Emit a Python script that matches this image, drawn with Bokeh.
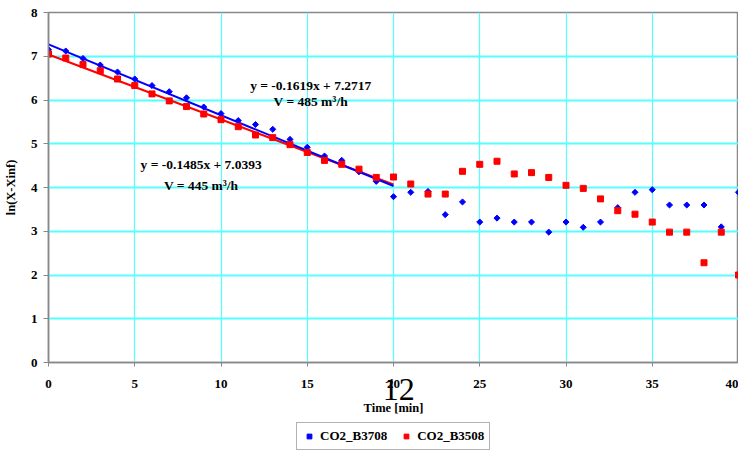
import math
from bokeh.plotting import figure
from bokeh.layouts import column
from bokeh.models import Range1d, FixedTicker, Legend, LegendItem, Label, LinearAxis
from bokeh.embed import file_html
from bokeh.resources import INLINE

# ---- data ----
time_min = list(range(0, 41))
co2_b3708 = [7.15, 7.12, 6.95, 6.80, 6.64, 6.48, 6.33, 6.19, 6.05, 5.84,
             5.69, 5.53, 5.44, 5.33, 5.10, 4.92, 4.72, 4.62, 4.36, 4.14,
             3.79, 3.89, 3.91, 3.38, 3.67, 3.21, 3.30, 3.21, 3.21, 2.98,
             3.21, 3.09, 3.21, 3.54, 3.89, 3.95, 3.60, 3.60, 3.60, 3.10,
             3.89]
co2_b3508 = [7.05, 6.96, 6.81, 6.67, 6.48, 6.33, 6.14, 5.98, 5.85, 5.68,
             5.55, 5.39, 5.20, 5.14, 4.98, 4.80, 4.62, 4.53, 4.42, 4.23,
             4.24, 4.08, 3.85, 3.85, 4.37, 4.53, 4.60, 4.31, 4.34, 4.23,
             4.05, 3.98, 3.74, 3.47, 3.39, 3.21, 2.98, 2.98, 2.28, 2.98,
             2.00]
fit_range = [0, 20]
fit_slope_b3708, fit_icpt_b3708 = -0.1619, 7.2717
fit_slope_b3508, fit_icpt_b3508 = -0.1485, 7.0393
x_ticks = [0, 5, 10, 15, 20, 25, 30, 35, 40]
y_ticks = [0, 1, 2, 3, 4, 5, 6, 7, 8]
eq_b3708 = ["y = -0.1619x + 7.2717", "V = 485 m\u00b3/h"]
eq_b3508 = ["y = -0.1485x + 7.0393", "V = 445 m\u00b3/h"]
series_names = ["CO2_B3708", "CO2_B3508"]
page_number = "12"

FONT = "Liberation Serif"
BLUE = "#0000FF"
RED = "#FF0000"
GRID = "#55FFFF"
AXIS = "#888888"

p = figure(frame_width=690, frame_height=350, x_range=Range1d(0, 40), y_range=Range1d(0, 8),
           output_backend="svg", toolbar_location=None,
           min_border_top=12, min_border_left=0, min_border_right=0, min_border_bottom=0)
p.background_fill_color = "white"
p.border_fill_color = "white"
p.outline_line_color = AXIS
p.outline_line_width = 1.5

xax = p.xaxis[0]
yax = p.yaxis[0]
xax.ticker = FixedTicker(ticks=x_ticks)
yax.ticker = FixedTicker(ticks=y_ticks)
for ax in (xax, yax):
    ax.axis_line_color = AXIS
    ax.axis_line_width = 1.5
    ax.major_tick_line_color = AXIS
    ax.major_tick_in = 0
    ax.minor_tick_line_color = None
    ax.major_label_text_font = FONT
    ax.major_label_text_font_style = "bold"
    ax.major_label_text_font_size = "13px"
    ax.major_label_text_color = "black"
    ax.axis_label_text_font = FONT
    ax.axis_label_text_font_style = "bold"
    ax.axis_label_text_font_size = "12.5px"
    ax.axis_label_text_color = "black"
xax.major_tick_out = 4
xax.major_label_standoff = 13
yax.major_tick_out = 5
yax.major_label_standoff = 6
yax.axis_label_standoff = 10
yax.axis_label = "ln(X-Xinf)"

# second (label-only) bottom axis: carries the large "12" and the axis title
ax2 = LinearAxis(ticker=FixedTicker(ticks=[20.3]),
                 major_label_overrides={20.3: page_number},
                 axis_line_color=None, major_tick_line_color=None,
                 minor_tick_line_color=None, major_tick_in=0, major_tick_out=0,
                 major_label_standoff=-12,
                 major_label_text_font=FONT, major_label_text_font_style="normal",
                 major_label_text_font_size="32px", major_label_text_color="black",
                 axis_label="Time [min]", axis_label_standoff=-2,
                 axis_label_text_font=FONT, axis_label_text_font_style="bold",
                 axis_label_text_font_size="12.5px", axis_label_text_color="black")
p.add_layout(ax2, "below")

p.xgrid.grid_line_color = GRID
p.ygrid.grid_line_color = GRID
p.xgrid.grid_line_width = 1.2
p.ygrid.grid_line_width = 2

# trend lines
fx = fit_range
p.line(fx, [fit_slope_b3508 * v + fit_icpt_b3508 for v in fx], line_color=RED, line_width=2)
p.line(fx, [fit_slope_b3708 * v + fit_icpt_b3708 for v in fx], line_color=BLUE, line_width=2)

blue_style = dict(marker="square", angle=math.pi / 4, size=4.3, color=BLUE)
red_style = dict(marker="square", size=6, color=RED)
p.scatter(time_min, co2_b3708, **blue_style)
p.scatter(time_min, co2_b3508, **red_style)

def add_lbl(x, y, txt, size="13.5px"):
    p.add_layout(Label(x=x, y=y, text=txt, text_font=FONT, text_font_style="bold",
                       text_font_size=size, text_align="center",
                       text_baseline="middle", text_color="black"))

add_lbl(15.2, 6.33, eq_b3708[0])
add_lbl(15.2, 5.97, eq_b3708[1])
add_lbl(8.85, 4.53, eq_b3508[0])
add_lbl(8.85, 4.05, eq_b3508[1])

# legend strip below the chart (hidden copies of the series drive the legend glyphs)
lg = figure(width=730, height=33, output_backend="svg", toolbar_location=None,
            min_border=0, x_axis_type=None, y_axis_type=None,
            x_range=Range1d(0, 40), y_range=Range1d(0, 8))
lg.outline_line_color = None
lg.xgrid.visible = False
lg.ygrid.visible = False
lr_blue = lg.scatter(time_min, co2_b3708, visible=False, **blue_style)
lr_red = lg.scatter(time_min, co2_b3508, visible=False, **red_style)
legend = Legend(items=[LegendItem(label=series_names[0], renderers=[lr_blue]),
                       LegendItem(label=series_names[1], renderers=[lr_red])],
                orientation="horizontal", location=(248, 0),
                label_text_font=FONT, label_text_font_style="bold",
                label_text_font_size="13px", label_text_color="black",
                glyph_width=14, glyph_height=12, label_standoff=4, spacing=12,
                padding=5, margin=0, border_line_color="#666666",
                border_line_width=1.5, background_fill_alpha=1,
                inactive_fill_alpha=0)
lg.add_layout(legend, "center")

layout = column(p, lg)
open("out.html", "w").write(file_html(layout, INLINE))
